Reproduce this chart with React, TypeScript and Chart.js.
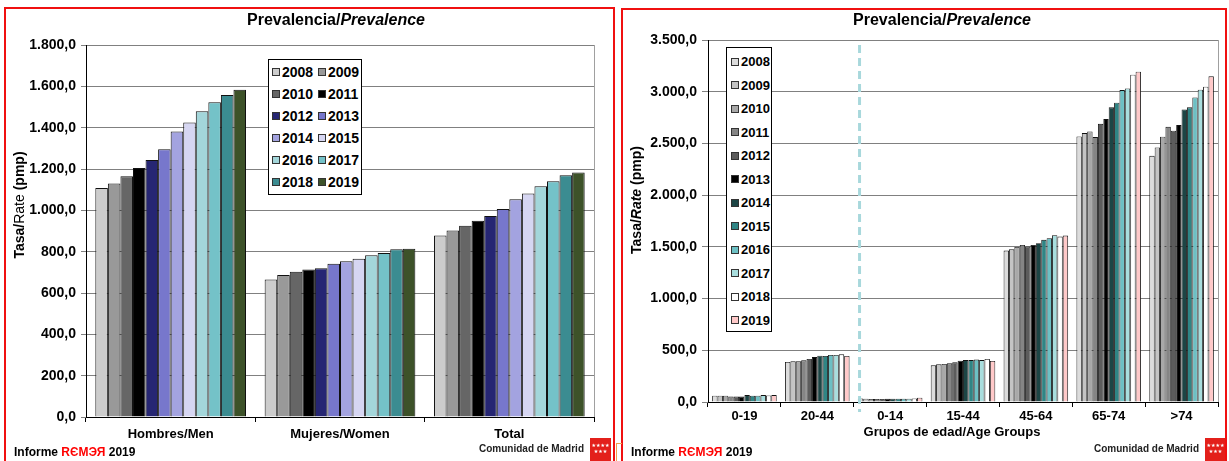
import React, { useEffect, useRef } from 'react';
import { Chart, registerables } from 'chart.js';

Chart.register(...registerables);

const FONT = '"Liberation Sans", Arial, Helvetica, sans-serif';

// ---------- data ----------
const years = ['2008', '2009', '2010', '2011', '2012', '2013', '2014', '2015', '2016', '2017', '2018', '2019'];

const sexCategories = ['Hombres/Men', 'Mujeres/Women', 'Total'];
const hombres = [1108, 1130, 1165, 1205, 1244, 1296, 1381, 1425, 1480, 1523, 1558, 1583];
const mujeres = [665, 687, 703, 714, 720, 741, 754, 766, 783, 793, 812, 814];
const totalSex = [878, 902, 926, 949, 972, 1007, 1054, 1081, 1117, 1141, 1170, 1183];
const sexYTicks = [0, 200, 400, 600, 800, 1000, 1200, 1400, 1600, 1800];
const sexColors = ['#cccccc', '#999999', '#666666', '#000000', '#262673', '#7777cc', '#a3a3e0', '#d6d6f2', '#a3d6da', '#74c2c8', '#3b8c91', '#3d5229'];

const ageCategories = ['0-19', '20-44', '0-14', '15-44', '45-64', '65-74', '>74'];
const age0to19 = [61, 61, 61, 52, 52, 52, 67, 61, 61, 67, 64, 67];
const age20to44 = [387, 393, 393, 403, 416, 435, 448, 445, 455, 455, 461, 445];
const age0to14 = [35, 32, 30, 30, 30, 32, 32, 32, 32, 32, 35, 42];
const age15to44 = [355, 365, 368, 374, 384, 400, 406, 406, 410, 406, 416, 397];
const age45to64 = [1465, 1477, 1500, 1519, 1503, 1519, 1536, 1568, 1584, 1613, 1600, 1610];
const age65to74 = [2568, 2600, 2616, 2561, 2690, 2736, 2849, 2894, 3016, 3032, 3165, 3194];
const age75plus = [2381, 2461, 2565, 2661, 2623, 2678, 2829, 2849, 2945, 3020, 3049, 3149];
const ageYTicks = [0, 500, 1000, 1500, 2000, 2500, 3000, 3500];
const ageColors = ['#dcdcdc', '#c4c4c4', '#a8a8a8', '#858585', '#5c5c5c', '#000000', '#1c4545', '#2f8585', '#6cc0c4', '#a8dede', '#ffffff', '#ffc9c9'];

// ---------- helpers ----------
const fmtEs = (v: number) => {
  const [i, d] = Math.abs(v).toFixed(1).split('.');
  return i.replace(/\B(?=(\d{3})+(?!\d))/g, '.') + ',' + d;
};

const rightEdgePlugin = {
  id: 'rightEdge',
  beforeDatasetsDraw(chart: any) {
    const { ctx, chartArea: a } = chart;
    ctx.save();
    ctx.strokeStyle = '#a0a0a0';
    ctx.lineWidth = 1;
    const x = Math.round(a.right) + 0.5;
    ctx.beginPath();
    ctx.moveTo(x, a.top);
    ctx.lineTo(x, a.bottom);
    ctx.stroke();
    ctx.restore();
  },
};

const dividerPlugin = {
  id: 'divider',
  afterDatasetsDraw(chart: any) {
    const { ctx, chartArea: a } = chart;
    const x = chart.scales.x.getPixelForValue(1.58);
    ctx.save();
    ctx.strokeStyle = '#a8d8dc';
    ctx.lineWidth = 3;
    ctx.setLineDash([8, 5]);
    ctx.beginPath();
    ctx.moveTo(x, a.top + 5);
    ctx.lineTo(x, a.bottom + 10);
    ctx.stroke();
    ctx.restore();
  },
};

function buildConfig(opts: {
  labels: string[];
  series: number[][];
  colors: string[];
  yTicks: number[];
  yWidth: number;
  xHeight: number;
  padTop: number;
  padRight: number;
  catPct: number;
  borderW: number;
  xPad: number;
  yTickLen: number;
  plugins: any[];
}): any {
  const datasets = years.map((y, i) => ({
    label: y,
    data: opts.series.map((s) => s[i]),
    backgroundColor: opts.colors[i],
    borderColor: '#111111',
    borderWidth: opts.borderW,
    borderSkipped: 'bottom',
    categoryPercentage: opts.catPct,
    barPercentage: 1,
  }));
  const yMax = opts.yTicks[opts.yTicks.length - 1];
  return {
    type: 'bar',
    data: { labels: opts.labels, datasets },
    plugins: opts.plugins,
    options: {
      animation: false,
      responsive: false,
      maintainAspectRatio: false,
      events: [],
      layout: { padding: { top: opts.padTop, right: opts.padRight, left: 0, bottom: 0 } },
      plugins: { legend: { display: false }, tooltip: { enabled: false }, title: { display: false } },
      scales: {
        x: {
          type: 'category',
          grid: { display: true, drawOnChartArea: false, drawTicks: true, tickLength: 5, color: '#000', lineWidth: 1, offset: true },
          border: { display: true, color: '#000', width: 1 },
          ticks: { color: '#000', font: { family: FONT, size: 13, weight: 'bold' }, padding: opts.xPad, maxRotation: 0, autoSkip: false },
          afterFit: (s: any) => { s.height = opts.xHeight; },
        },
        y: {
          min: 0,
          max: yMax,
          afterBuildTicks: (s: any) => { s.ticks = opts.yTicks.map((v) => ({ value: v })); },
          ticks: { color: '#000', font: { family: FONT, size: 14, weight: 'bold' }, padding: 5, callback: (v: any) => fmtEs(Number(v)) },
          grid: { color: '#808080', lineWidth: 1, tickLength: opts.yTickLen, drawTicks: true },
          border: { display: true, color: '#000', width: 1 },
          afterFit: (s: any) => { s.width = opts.yWidth; },
        },
      },
    },
  };
}

// ---------- small components ----------
function Legend(props: { left: number; top: number; width: number; height: number; cols: number; rowH: number; padTop: number; padLeft: number; colW: number; marker: number; fontSize: number; colors: string[] }) {
  const { left, top, width, height, cols, rowH, padTop, padLeft, colW, marker, fontSize, colors } = props;
  return (
    <div style={{ position: 'absolute', left, top, width, height, boxSizing: 'border-box', border: '1px solid #000', background: '#fff' }}>
      {years.map((y, i) => {
        const col = cols === 2 ? i % 2 : 0;
        const row = cols === 2 ? Math.floor(i / 2) : i;
        return (
          <div key={y} style={{ position: 'absolute', left: padLeft + col * colW, top: padTop + row * rowH, height: rowH, display: 'flex', alignItems: 'center' }}>
            <span style={{ display: 'inline-block', width: marker, height: marker, boxSizing: 'border-box', border: '1px solid #333', background: colors[i] }} />
            <span style={{ marginLeft: 2, fontFamily: FONT, fontWeight: 'bold', fontSize, color: '#000', lineHeight: `${rowH}px` }}>{y}</span>
          </div>
        );
      })}
    </div>
  );
}

function Footer(props: { left: number; right: number }) {
  return (
    <>
      <div style={{ position: 'absolute', left: props.left, top: 444, fontFamily: FONT, fontWeight: 'bold', fontSize: 12, lineHeight: '16px', color: '#000', whiteSpace: 'nowrap' }}>
        Informe <span style={{ color: '#ff0000' }}>RЄMЭЯ</span> 2019
      </div>
      <div style={{ position: 'absolute', left: props.right - 230, width: 200, textAlign: 'right', top: 442, fontFamily: FONT, fontWeight: 'bold', fontSize: 10, lineHeight: '14px', color: '#222', whiteSpace: 'nowrap' }}>
        Comunidad de Madrid
      </div>
      <div style={{ position: 'absolute', left: props.right - 24, top: 438, width: 21, height: 23, background: '#e3201b', color: '#fff', fontSize: 5, lineHeight: '6px', textAlign: 'center', paddingTop: 4, boxSizing: 'border-box', fontFamily: '"DejaVu Sans", sans-serif' }}>
        ★★★★<br />★★★
      </div>
    </>
  );
}

function Title(props: { cx: number }) {
  return (
    <div style={{ position: 'absolute', left: props.cx - 200, width: 400, top: 10, textAlign: 'center', fontFamily: FONT, fontWeight: 'bold', fontSize: 16, lineHeight: '20px', color: '#000' }}>
      Prevalencia/<i>Prevalence</i>
    </div>
  );
}

function YTitle(props: { cx: number; cy: number; italicRate: boolean }) {
  return (
    <div style={{ position: 'absolute', left: props.cx - 100, top: props.cy - 9, width: 200, height: 18, lineHeight: '18px', textAlign: 'center', transform: 'rotate(-90deg)', fontFamily: FONT, fontSize: 14, fontWeight: 'bold', color: '#000', whiteSpace: 'nowrap' }}>
      {props.italicRate ? (
        <>Tasa/<i>Rate</i> (pmp)</>
      ) : (
        <>Tasa/<span style={{ fontWeight: 'normal' }}>Rate</span> (pmp)</>
      )}
    </div>
  );
}

export default function App() {
  const leftRef = useRef<HTMLCanvasElement>(null);
  const rightRef = useRef<HTMLCanvasElement>(null);

  useEffect(() => {
    const left = new Chart(
      leftRef.current as HTMLCanvasElement,
      buildConfig({
        labels: sexCategories,
        series: [hombres, mujeres, totalSex],
        colors: sexColors,
        yTicks: sexYTicks,
        yWidth: 86,
        xHeight: 44,
        padTop: 45,
        padRight: 20,
        catPct: 0.89,
        borderW: 1,
        xPad: 5,
        yTickLen: 5,
        plugins: [rightEdgePlugin],
      })
    );
    const right = new Chart(
      rightRef.current as HTMLCanvasElement,
      buildConfig({
        labels: ageCategories,
        series: [age0to19, age20to44, age0to14, age15to44, age45to64, age65to74, age75plus],
        colors: ageColors,
        yTicks: ageYTicks,
        yWidth: 86,
        xHeight: 59,
        padTop: 40,
        padRight: 11,
        catPct: 0.886,
        borderW: 0.9,
        xPad: 2,
        yTickLen: 6,
        plugins: [rightEdgePlugin, dividerPlugin],
      })
    );
    return () => {
      left.destroy();
      right.destroy();
    };
  }, []);

  return (
    <div style={{ position: 'absolute', left: 0, top: 0, width: 1229, height: 461, overflow: 'hidden', background: '#fff' }}>
      <canvas ref={leftRef} width={614} height={461} style={{ position: 'absolute', left: 0, top: 0, width: 614, height: 461 }} />
      <canvas ref={rightRef} width={607} height={461} style={{ position: 'absolute', left: 622, top: 0, width: 607, height: 461 }} />

      <Title cx={336} />
      <Title cx={942} />
      <YTitle cx={19} cy={205} italicRate={false} />
      <YTitle cx={636} cy={200} italicRate={true} />
      <div style={{ position: 'absolute', left: 752, width: 400, top: 424, textAlign: 'center', fontFamily: FONT, fontWeight: 'bold', fontSize: 13, lineHeight: '16px', color: '#000' }}>
        Grupos de edad/Age Groups
      </div>

      <Legend left={268} top={59} width={94} height={136} cols={2} rowH={22} padTop={1} padLeft={3} colW={46} marker={8} fontSize={14} colors={sexColors} />
      <Legend left={726} top={47} width={46} height={285} cols={1} rowH={23.5} padTop={2} padLeft={4} colW={0} marker={8} fontSize={13} colors={ageColors} />

      <Footer left={14} right={614} />
      <Footer left={631} right={1229} />

      {/* panel frames */}
      <div style={{ position: 'absolute', left: 4, top: 7, width: 611, height: 470, boxSizing: 'border-box', border: '2px solid #f01010' }} />
      <div style={{ position: 'absolute', left: 621, top: 8, width: 606, height: 470, boxSizing: 'border-box', border: '2px solid #f01010' }} />
      <div style={{ position: 'absolute', left: 616, top: 443, width: 6, height: 25, boxSizing: 'border-box', border: '1px solid #f0a050', borderRight: 'none' }} />
    </div>
  );
}
